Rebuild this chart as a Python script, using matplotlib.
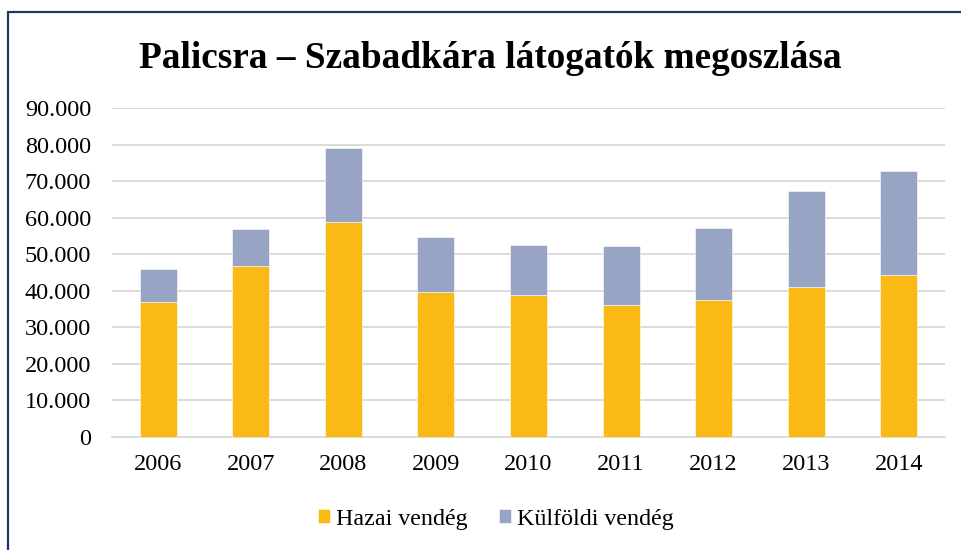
import matplotlib
matplotlib.use("Agg")
import matplotlib.pyplot as plt
from matplotlib.patches import Rectangle
from matplotlib.ticker import FuncFormatter
import numpy as np

years = ["2006", "2007", "2008", "2009", "2010", "2011", "2012", "2013", "2014"]
hazai = [36900, 46700, 58800, 39800, 38900, 36100, 37450, 41000, 44300]
kulfoldi = [9100, 10300, 20300, 14850, 13600, 16100, 19600, 26300, 28600]
series_names = ["Hazai vendég", "Külföldi vendég"]
title = "Palicsra – Szabadkára látogatók megoszlása"

W, H = 962, 550
fig = plt.figure(figsize=(W / 100, H / 100), dpi=100)
plt.rcParams["font.family"] = ["Liberation Serif", "DejaVu Serif"]

# outer frame
fig.patches.append(Rectangle((8 / W, -0.05), 1.1, 1 - 12 / H + 0.05,
                             transform=fig.transFigure, fill=False,
                             edgecolor="#1F3864", linewidth=1.6, zorder=0))

ax = fig.add_axes([112 / W, 1 - 437 / H, (945 - 112) / W, (437 - 108) / H])
x = np.arange(len(years))
c1, c2 = "#FBB915", "#97A4C3"
ax.bar(x, hazai, width=0.4, color=c1, edgecolor="white", linewidth=0.4,
       label=series_names[0], zorder=3)
ax.bar(x, kulfoldi, width=0.4, bottom=hazai, color=c2, edgecolor="white",
       linewidth=0.4, label=series_names[1], zorder=3)

ax.set_xlim(-0.5, len(years) - 0.5)
ax.set_ylim(0, 90000)
ax.set_yticks(np.arange(0, 90001, 10000))
ax.yaxis.set_major_formatter(FuncFormatter(
    lambda v, p: "0" if v == 0 else f"{int(v):,}".replace(",", ".")))
ax.set_xticks(x)
ax.set_xticklabels(years)
ax.grid(axis="y", color="#D9D9D9", linewidth=1.3, zorder=0)
for s in ["top", "right", "left"]:
    ax.spines[s].set_visible(False)
ax.spines["bottom"].set_color("#D9D9D9")
ax.spines["bottom"].set_linewidth(1.3)
ax.tick_params(axis="both", length=0, labelsize=17.5, colors="black")
ax.tick_params(axis="y", pad=15)
ax.tick_params(axis="x", pad=12.5)

fig.text(490 / W, 1 - 68 / H, title, ha="center", va="baseline",
         fontsize=26.8, fontweight="bold")

fig.legend(loc="center", bbox_to_anchor=(496 / W, 1 - 519 / H), ncol=2,
           frameon=False, fontsize=17.3, handlelength=0.5, handleheight=0.5,
           handletextpad=0.25, columnspacing=1.3)

fig.savefig("out.png", dpi=100)
